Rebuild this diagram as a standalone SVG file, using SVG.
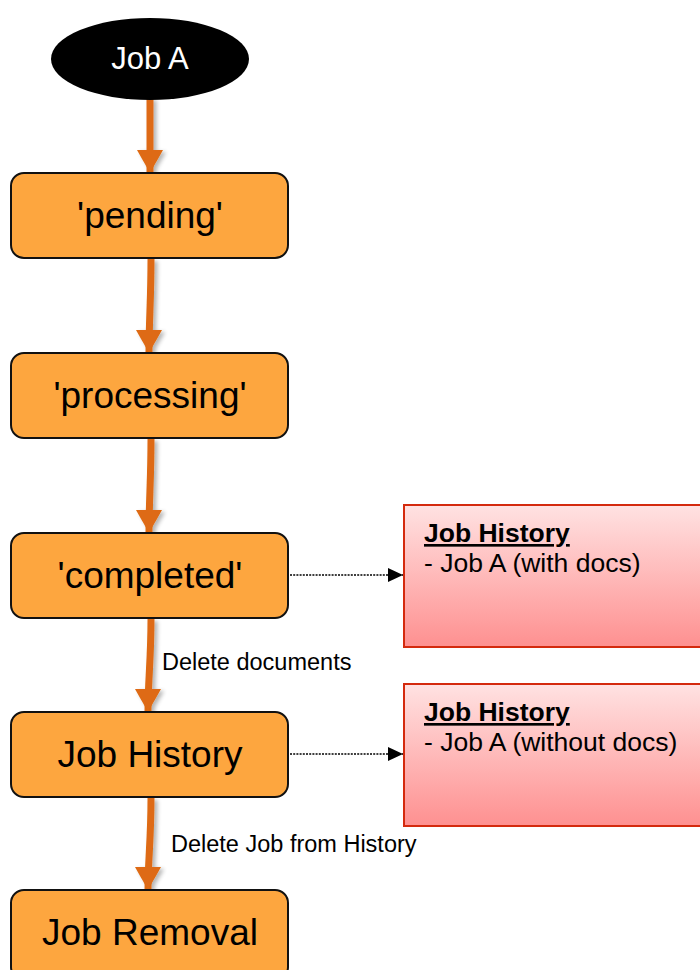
<svg xmlns="http://www.w3.org/2000/svg" width="700" height="970" viewBox="0 0 700 970">
<style>
.box{fill:#FDA63F;stroke:#111;stroke-width:2}
.bt{font-family:"Liberation Sans",Arial,sans-serif;font-size:37px;fill:#000;text-anchor:middle}
.flow{fill:none;stroke:#DE6B12;stroke-width:7}
.dot{fill:none;stroke:#000;stroke-width:1.6;stroke-dasharray:2 1.2}
.lbl{font-family:"Liberation Sans",Arial,sans-serif;font-size:23.5px;fill:#000}
.hist{fill:url(#rg);stroke:#D42A0E;stroke-width:2}
.ht{font-family:"Liberation Sans",Arial,sans-serif;font-size:26.5px;fill:#000}
</style>
<defs>
<linearGradient id="rg" x1="0" y1="0" x2="0" y2="1">
<stop offset="0" stop-color="#FFE2E2"/>
<stop offset="1" stop-color="#FE9090"/>
</linearGradient>
<marker id="oa" markerUnits="userSpaceOnUse" markerWidth="28" markerHeight="28" refX="23" refY="13" orient="auto">
<path d="M0,0 L23,13 L0,26 Z" fill="#DE6B12"/>
</marker>
<marker id="ba" markerUnits="userSpaceOnUse" markerWidth="16" markerHeight="16" refX="15" refY="8" orient="auto">
<path d="M0,1 L15,8 L0,15 Z" fill="#000"/>
</marker>
<filter id="sh" filterUnits="userSpaceOnUse" x="0" y="0" width="700" height="970">
<feGaussianBlur in="SourceAlpha" stdDeviation="2"/>
<feOffset dx="3" dy="2"/>
<feComponentTransfer><feFuncA type="linear" slope="0.3"/></feComponentTransfer>
<feMerge><feMergeNode/><feMergeNode in="SourceGraphic"/></feMerge>
</filter>
</defs>
<g id="connectors">
<path class="flow" filter="url(#sh)" marker-end="url(#oa)" d="M150,98 L150,173"/>
<path class="flow" filter="url(#sh)" marker-end="url(#oa)" d="M151,259 C151,300 149,320 149,353"/>
<path class="flow" filter="url(#sh)" marker-end="url(#oa)" d="M151,439 C151,480 149,500 149,533"/>
<path class="flow" filter="url(#sh)" marker-end="url(#oa)" d="M151,619 C151,660 148,680 148,712"/>
<path class="flow" filter="url(#sh)" marker-end="url(#oa)" d="M151,798 C151,840 148,860 148,890"/>
<path class="dot" marker-end="url(#ba)" d="M290,575 L403,575"/>
<path class="dot" marker-end="url(#ba)" d="M290,754 L403,754"/>
<text class="lbl" x="162" y="670">Delete documents</text>
<text class="lbl" x="171" y="852">Delete Job from History</text>
</g>
<g id="jobA">
<ellipse cx="150" cy="59" rx="99" ry="41" fill="#000"/>
<text x="150" y="69" font-family="'Liberation Sans',Arial,sans-serif" font-size="31" fill="#fff" text-anchor="middle">Job A</text>
</g>
<g id="pending">
<rect class="box" x="11" y="173" width="277" height="85" rx="13"/>
<text class="bt" x="150" y="228">'pending'</text>
</g>
<g id="processing">
<rect class="box" x="11" y="353" width="277" height="85" rx="13"/>
<text class="bt" x="150" y="408">'processing'</text>
</g>
<g id="completed">
<rect class="box" x="11" y="533" width="277" height="85" rx="13"/>
<text class="bt" x="150" y="588">'completed'</text>
</g>
<g id="jobHistory">
<rect class="box" x="11" y="712" width="277" height="85" rx="13"/>
<text class="bt" x="150" y="767">Job History</text>
</g>
<g id="jobRemoval">
<rect class="box" x="11" y="890" width="277" height="90" rx="13"/>
<text class="bt" x="150" y="945">Job Removal</text>
</g>
<g id="history1">
<rect class="hist" x="404" y="505" width="310" height="142"/>
<text class="ht" x="424" y="542" font-weight="bold" text-decoration="underline">Job History</text>
<text class="ht" x="424" y="572">- Job A (with docs)</text>
</g>
<g id="history2">
<rect class="hist" x="404" y="684" width="310" height="142"/>
<text class="ht" x="424" y="721" font-weight="bold" text-decoration="underline">Job History</text>
<text class="ht" x="424" y="751">- Job A (without docs)</text>
</g>
</svg>
